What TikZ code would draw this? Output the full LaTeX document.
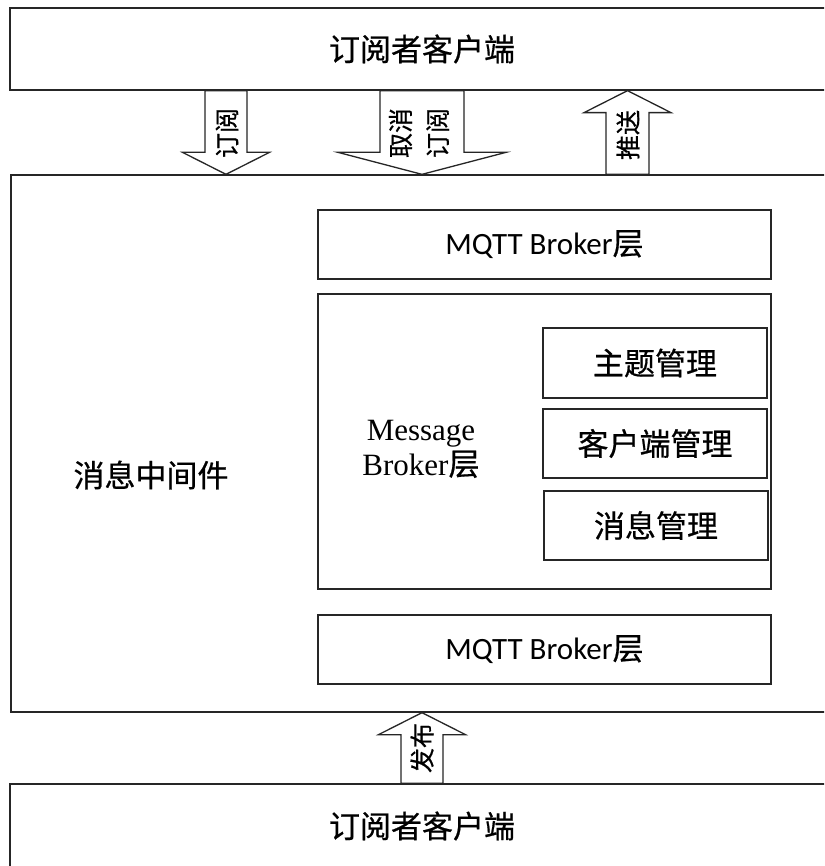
\documentclass[tikz,border=0pt]{standalone}
\usepackage{fontspec}
\setmainfont{Liberation Serif}
\newfontfamily\cjk[FakeBold=0.6]{Noto Sans CJK SC}
\newfontfamily\calibri{Carlito}
\usetikzlibrary{calc}

\tikzstyle{box}=[draw=black!85, line width=1.3pt, rectangle, inner sep=0pt, font=\cjk\fontsize{31}{37}\selectfont]
\tikzstyle{layer}=[box, minimum width=453pt, minimum height=69pt, font=\calibri\fontsize{31}{37}\selectfont]
\tikzstyle{module}=[box, minimum width=224pt, minimum height=69pt]
\tikzstyle{blockarrow}=[draw=black!85, line width=1.3pt, fill=white]
\tikzstyle{arrowtext}=[rotate=90, inner sep=0pt, align=center, font=\cjk\fontsize{25}{37}\selectfont]

% #1 start anchor, #2 tip anchor, #3 x, #4 half shaft, #5 half head
\newcommand{\blockarrow}[5]{%
	\draw[blockarrow] let \p1=(#1), \p2=(#2), \n1={sign(\y1-(\y2))*22} in
	({#3-#4},\y1) -- ({#3-#4},\y2+\n1) -- ({#3-#5},\y2+\n1) -- (#3,\y2)
	-- ({#3+#5},\y2+\n1) -- ({#3+#4},\y2+\n1) -- ({#3+#4},\y1) -- cycle;}

\begin{document}
\begin{tikzpicture}[x=1pt, y=-1pt]
	\useasboundingbox (0,0) rectangle (824,866);
	\clip (0,0) rectangle (824,866);
	%outer boxes
	\node[box, minimum width=824pt, minimum height=82pt] (subscriber) at (422,49) {订阅者客户端};
	\node[box, minimum width=823pt, minimum height=537pt] (middleware) at (422.5,443.5) {};
	\node[box, minimum width=824pt, minimum height=84pt] (publisher) at (422,826) {订阅者客户端};
	\node[font=\cjk\fontsize{31}{37}\selectfont] (mwlabel) at (151,475) {消息中间件};
	%layers
	\node[layer] (mqtttop) at (544.5,244.5) {MQTT Broker{\cjk 层}};
	\node[box, minimum width=453pt, minimum height=295pt] (msgbroker) at (544.5,441.5) {};
	\node[align=center, font=\rmfamily\fontsize{31}{35}\selectfont] (msglabel) at (421,449) {Message\\Broker{\cjk 层}};
	\node[layer] (mqttbottom) at (544.5,649.5) {MQTT Broker{\cjk 层}};
	%modules
	\node[module, minimum height=70pt] (topic) at (655,363) {主题管理};
	\node[module] (client) at (655,443.5) {客户端管理};
	\node[module] (msgmgmt) at (656,525.5) {消息管理};
	%arrows
	\blockarrow{subscriber.south}{middleware.north}{226}{21}{43.5}
	\blockarrow{subscriber.south}{middleware.north}{422}{42}{84}
	\blockarrow{middleware.north}{subscriber.south}{627.5}{21.5}{43.5}
	\blockarrow{publisher.north}{middleware.south}{422}{21}{43.5}
	%arrow labels
	\node[arrowtext] (sublabel) at (227,133) {订阅};
	\node[arrowtext] (unsublabel) at (419,133) {取消\\订阅};
	\node[arrowtext] (pushlabel) at (628,135) {推送};
	\node[arrowtext] (publabel) at (422,748) {发布};
\end{tikzpicture}
\end{document}
